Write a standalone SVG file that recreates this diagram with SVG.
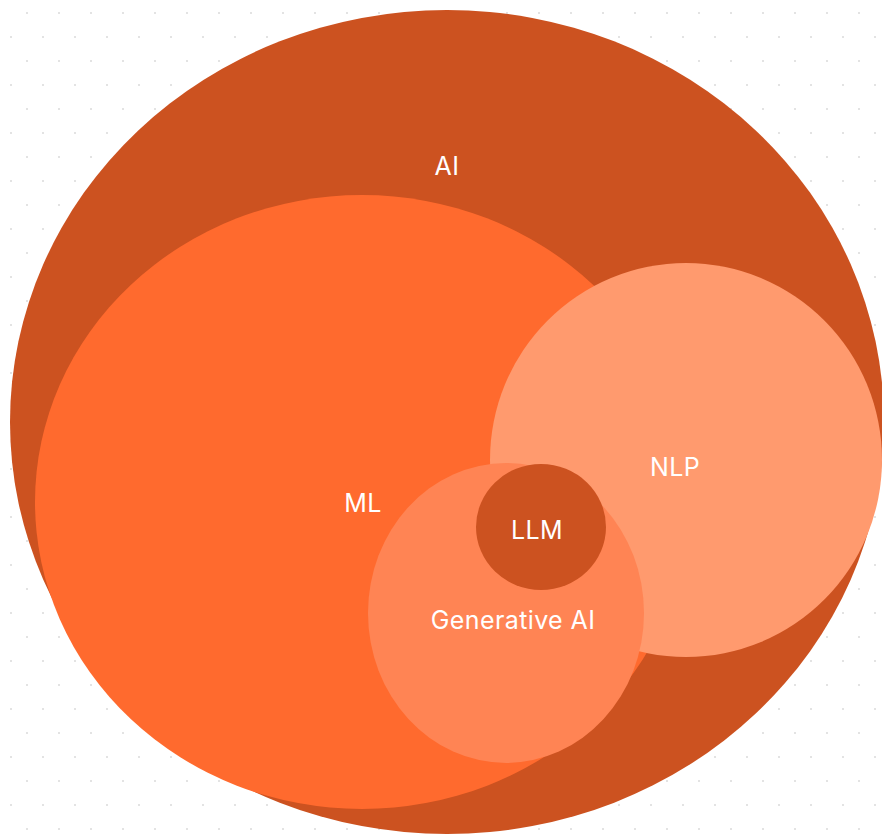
<svg xmlns="http://www.w3.org/2000/svg" width="882" height="834" viewBox="0 0 882 834">
<defs>
<pattern id="dots" width="32" height="48" patternUnits="userSpaceOnUse">
<rect x="26" y="12" width="2" height="2" fill="#e3e3e3"/>
<rect x="10" y="36" width="2" height="2" fill="#e3e3e3"/>
</pattern>
<style>
.lbl{font-family:Inter,"Liberation Sans",sans-serif;font-size:25px;letter-spacing:0.4px;fill:#ffffff;text-anchor:middle;dominant-baseline:central}
</style>
</defs>
<rect width="882" height="834" fill="#ffffff"/>
<rect width="882" height="834" fill="url(#dots)"/>
<g id="ai"><ellipse cx="447" cy="422" rx="437" ry="412" fill="#cc5220"/><text class="lbl" x="447" y="166">AI</text></g>
<g id="ml"><ellipse cx="362" cy="502" rx="327" ry="307" fill="#ff6a2e"/><text class="lbl" x="363" y="503">ML</text></g>
<g id="nlp"><ellipse cx="686" cy="460" rx="196" ry="197" fill="#ff9a6e"/><text class="lbl" x="675" y="467">NLP</text></g>
<g id="genai"><ellipse cx="506" cy="613" rx="138" ry="150" fill="#ff8454"/><text class="lbl" x="513" y="620">Generative AI</text></g>
<g id="llm"><ellipse cx="541" cy="527" rx="65" ry="63" fill="#cc5220"/><text class="lbl" x="537" y="530">LLM</text></g>
<g id="connectors"/>
</svg>
